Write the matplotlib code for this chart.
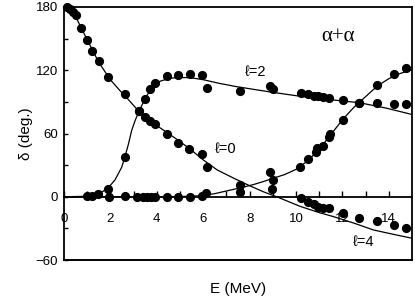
import matplotlib
matplotlib.use('Agg')
import matplotlib.pyplot as plt
import numpy as np

plt.rcParams['font.family'] = ['Liberation Sans', 'DejaVu Sans']

# phase shift data (E in MeV, delta in deg.)
e_l0 = [0.15, 0.28, 0.4, 0.52, 0.73, 0.99, 1.21, 1.51, 1.9, 2.63, 3.23, 3.49, 3.71, 3.92,
        4.44, 4.91, 5.39, 5.95, 6.16, 7.59, 8.95, 10.2, 10.53, 10.78, 10.96, 11.18, 11.44,
        12.04, 12.73, 13.48, 14.24, 14.74]
d_l0 = [180, 178, 175.5, 172, 160, 148.5, 138, 128.5, 114, 97, 81, 76, 71.4, 68.6,
        60, 51.4, 45.7, 41, 28.6, 11.4, 7.3, -1.3, -5, -7, -9.2, -10.2, -10.8,
        -14.9, -19.7, -22.5, -26.7, -29.2]

e_l2 = [0.98, 1.22, 1.48, 1.91, 2.63, 3.23, 3.49, 3.71, 3.92, 4.42, 4.93, 5.43, 5.93, 6.15,
        7.59, 8.88, 9.02, 10.2, 10.53, 10.78, 10.96, 11.18, 11.44, 12.04, 12.73, 13.48,
        14.24, 14.74]
d_l2 = [0.3, 1.2, 2.9, 7.3, 37.4, 81, 93, 101.9, 107.6, 114.6, 115.5, 116.5, 115.5, 103.5,
        100.3, 105, 101.9, 98, 97, 96, 95.5, 94.5, 94, 91.7, 89.2, 89.2, 87.6, 87.6]

e_l4 = [1.95, 2.65, 3.17, 3.39, 3.56, 3.74, 3.92, 4.42, 4.93, 5.43, 5.95, 6.1, 7.59, 8.88,
        9.0, 10.17, 10.53, 10.84, 10.9, 11.15, 11.4, 11.47, 12.04, 12.73, 13.48, 14.24, 14.74]
d_l4 = [0, 0.5, 0, 0, 0, 0, 0, 0, 0, 0, 1, 3.5, 4.8, 23.5,
        15.5, 28, 36, 42, 46, 48, 56.8, 60, 72.7, 89.2, 105.7, 116, 121.9]

# fitted curves
ce_l0 = [0, 0.25, 0.5, 0.75, 1.0, 1.5, 2.0, 2.4, 2.7, 3.23, 3.7, 4.14, 4.8, 5.43, 6.0, 6.6,
         7.3, 8.0, 8.6, 9.17, 10.17, 11.0, 11.6, 12.5, 13.33, 14.2, 15.0]
cd_l0 = [181, 178, 171, 160, 149, 127.5, 111, 101, 94, 81, 72.5, 65.4, 55.5, 45.4, 35, 25.5,
         17.8, 10.5, 4.7, 0, -9, -15, -18.7, -25, -31.4, -35.6, -39.3]

ce_l2 = [0, 1.0, 1.5, 1.91, 2.2, 2.49, 2.63, 2.78, 2.92, 3.08, 3.23, 3.49, 3.78, 4.14, 4.57,
         5.0, 5.43, 6.0, 6.7, 7.44, 8.88, 10.17, 11.5, 12.73, 13.9, 15.0]
cd_l2 = [0, 0.5, 2.5, 8.5, 16, 28, 38, 50, 63, 73, 80.6, 93, 103, 109.5, 112.5,
         113, 113, 111, 107.5, 104.4, 99.4, 95.3, 92, 89.2, 84, 78]

ce_l4 = [0, 5.0, 5.9, 6.5, 7.0, 7.6, 8.15, 8.6, 9.0, 9.5, 10.0, 10.5, 11.0, 11.5, 12.0,
         12.5, 13.0, 13.5, 14.0, 14.5, 15.0]
cd_l4 = [0, 0.2, 1, 3, 5.5, 8.5, 11.5, 14.5, 17.5, 21, 26, 34, 45, 59, 73,
         85, 95, 105, 112, 117, 120.5]

fig = plt.figure(figsize=(4.15, 3.0), dpi=100)
ax = fig.add_axes([0.154, 0.133, 0.839, 0.844])

ax.plot(ce_l0, cd_l0, color='black', lw=0.9)
ax.plot(ce_l2, cd_l2, color='black', lw=0.9)
ax.plot(ce_l4, cd_l4, color='black', lw=0.9)

for e, d in [(e_l0, d_l0), (e_l2, d_l2), (e_l4, d_l4)]:
    ax.plot(e, d, 'o', color='black', markersize=5.6, clip_on=False, zorder=3)

ax.set_xlim(0, 15)
ax.set_ylim(-60, 180)

# x axis drawn on the zero line, frame kept closed at the bottom
ax.spines['bottom'].set_position(('data', 0))
ax.plot([0, 1], [0, 0], transform=ax.transAxes, color='black', lw=1.4, clip_on=False)
for s in ['top', 'right', 'left', 'bottom']:
    ax.spines[s].set_linewidth(1.3)

ax.set_xticks(np.arange(0, 15, 2))
ax.set_xticks(np.arange(1, 15, 2), minor=True)
ax.set_yticks([-60, 0, 60, 120, 180])
ax.set_yticks([-30, 30, 90, 150], minor=True)
ax.tick_params(axis='x', which='both', direction='in', length=4, width=1, pad=12, labelsize=9.5)
ax.tick_params(axis='y', which='both', direction='in', length=3, width=1, pad=4, labelsize=9.5)

ax.set_xlabel('E (MeV)', fontsize=11)
ax.xaxis.set_label_coords(0.5, -0.085)
ax.set_ylabel('δ (deg.)', fontsize=11, labelpad=2)

ax.text(7.8, 118, 'ℓ=2', fontsize=10.5, va='center', ha='left')
ax.text(6.5, 45, 'ℓ=0', fontsize=10.5, va='center', ha='left')
ax.text(12.44, -43, 'ℓ=4', fontsize=10.5, va='center', ha='left')
ax.text(11.1, 152, 'α+α', fontsize=15, va='center', ha='left',
        family=['Liberation Serif', 'DejaVu Serif'])

fig.savefig('out.png', dpi=100)
